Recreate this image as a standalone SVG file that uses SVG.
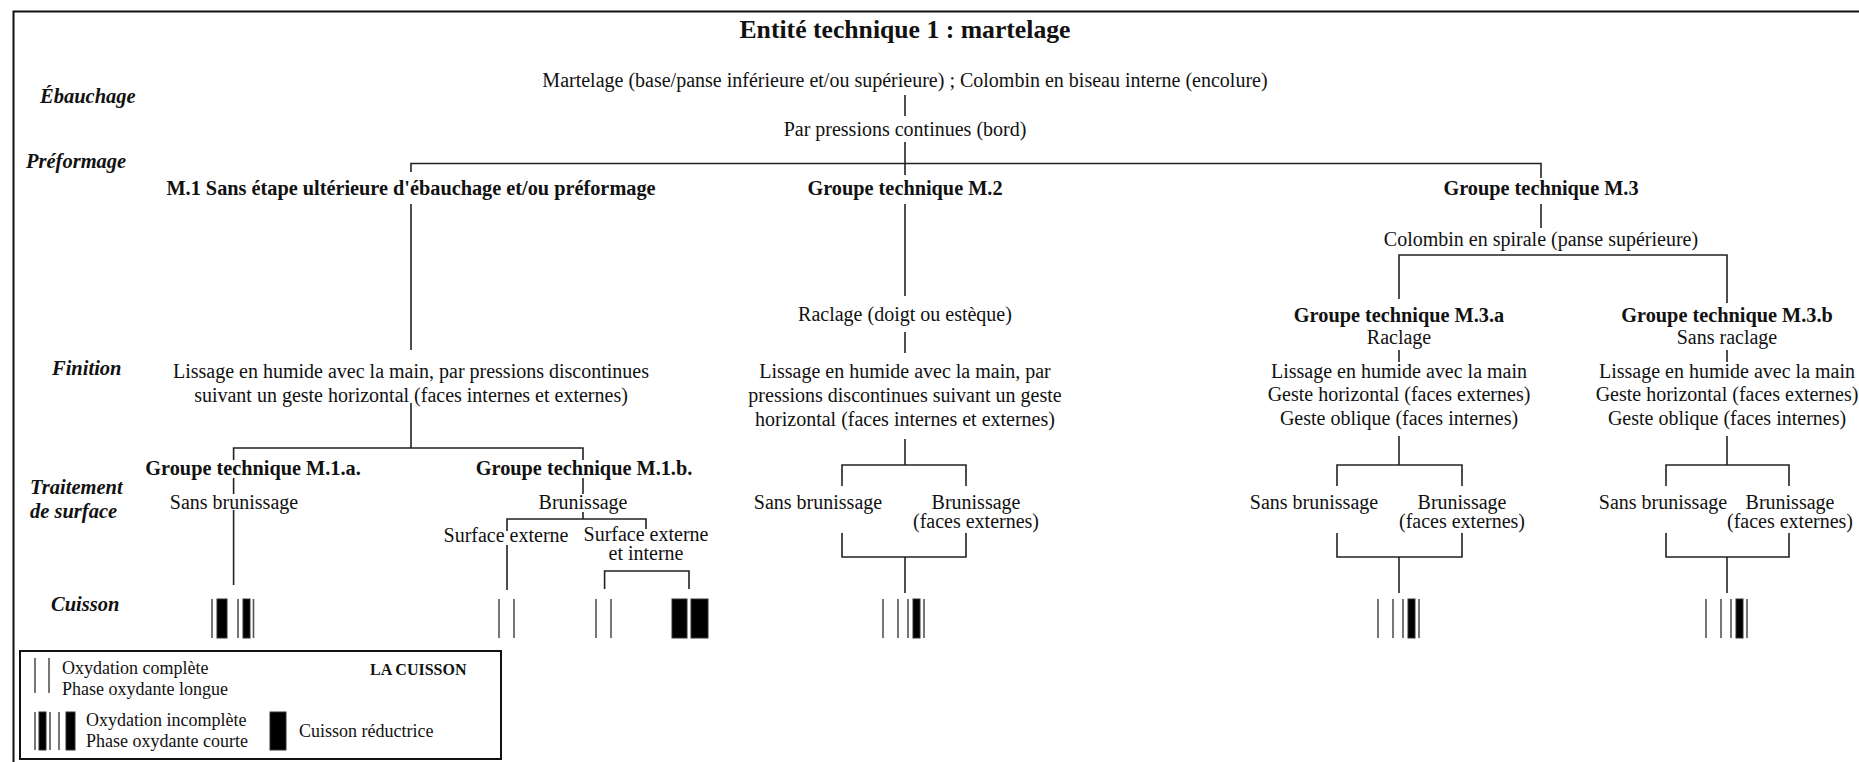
<svg xmlns="http://www.w3.org/2000/svg" width="1859" height="762" viewBox="0 0 1859 762">
<style>
text{font-family:"Liberation Serif","Times New Roman",serif;fill:#111}
.t{font-size:20px;text-anchor:middle}
.b{font-size:20.3px;font-weight:bold;text-anchor:middle}
.lab{font-size:20.5px;font-weight:bold;font-style:italic}
.lg{font-size:18px}
.c line,.c path{stroke:#222;stroke-width:1.6;fill:none}
.thin{stroke:#555;stroke-width:1.6}
.bar{fill:#000;stroke:#333;stroke-width:1}
</style>
<rect x="0" y="0" width="1859" height="762" fill="#fff"/>
<path d="M13.5,762 V11.5 H1859" fill="none" stroke="#111" stroke-width="2"/>

<g id="title"><text x="905" y="38" style="font-size:25.7px;font-weight:bold;text-anchor:middle">Entité technique 1 : martelage</text></g>

<g id="row-labels">
<text class="lab" x="40" y="103">Ébauchage</text>
<text class="lab" x="26" y="168">Préformage</text>
<text class="lab" x="52" y="375">Finition</text>
<text class="lab" x="30" y="494">Traitement</text>
<text class="lab" x="30" y="518">de surface</text>
<text class="lab" x="51" y="611">Cuisson</text>
</g>

<g class="c" id="connectors">
<line x1="905" y1="95" x2="905" y2="116"/>
<line x1="905" y1="142" x2="905" y2="175"/>
<path d="M411,172 V163.5 H1541 V178"/>
<line x1="411" y1="204" x2="411" y2="350"/>
<line x1="411" y1="403" x2="411" y2="448"/>
<path d="M233.6,460 V448 H583 V460"/>
<line x1="233.6" y1="478" x2="233.6" y2="494"/>
<line x1="233.6" y1="510" x2="233.6" y2="585"/>
<line x1="583" y1="478" x2="583" y2="494"/>
<line x1="583" y1="512" x2="583" y2="519"/>
<path d="M507,531 V519 H646 V529"/>
<line x1="507" y1="545" x2="507" y2="590"/>
<path d="M604.6,589 V571 H689 V589"/>
<line x1="905" y1="204" x2="905" y2="296"/>
<line x1="905" y1="332" x2="905" y2="353"/>
<line x1="905" y1="439" x2="905" y2="465"/>
<path d="M842,486 V465 H966 V486"/>
<path d="M842,533 V557 H966 V533"/>
<line x1="905" y1="557" x2="905" y2="593"/>
<line x1="1541" y1="204" x2="1541" y2="228"/>
<path d="M1399,299 V255 H1727 V303"/>
<line x1="1399" y1="350" x2="1399" y2="362"/>
<line x1="1399" y1="436" x2="1399" y2="465"/>
<path d="M1337,486 V465 H1462 V486"/>
<path d="M1337,533 V557 H1462 V533"/>
<line x1="1399" y1="557" x2="1399" y2="593"/>
<line x1="1727" y1="350" x2="1727" y2="362"/>
<line x1="1727" y1="436" x2="1727" y2="465"/>
<path d="M1666,486 V465 H1789 V486"/>
<path d="M1666,533 V557 H1789 V533"/>
<line x1="1727" y1="557" x2="1727" y2="593"/>
</g>

<g id="ebauchage">
<text class="t" x="905" y="87">Martelage (base/panse inférieure et/ou supérieure) ; Colombin en biseau interne (encolure)</text>
</g>
<g id="pressions"><text class="t" x="905" y="136">Par pressions continues (bord)</text></g>

<g id="m1"><text class="b" x="411" y="195">M.1 Sans étape ultérieure d'ébauchage et/ou préformage</text></g>
<g id="m2"><text class="b" x="905" y="195">Groupe technique M.2</text></g>
<g id="m3"><text class="b" x="1541" y="195">Groupe technique M.3</text></g>

<g id="m1-lissage">
<text class="t" x="411" y="378">Lissage en humide avec la main, par pressions discontinues</text>
<text class="t" x="411" y="402">suivant un geste horizontal (faces internes et externes)</text>
</g>
<g id="m1a"><text class="b" x="253" y="475">Groupe technique M.1.a.</text>
<text class="t" x="234" y="509">Sans brunissage</text></g>
<g id="m1b"><text class="b" x="584" y="475">Groupe technique M.1.b.</text>
<text class="t" x="583" y="509">Brunissage</text></g>
<g id="m1b-ext"><text class="t" x="506" y="542">Surface externe</text></g>
<g id="m1b-extint"><text class="t" x="646" y="541">Surface externe</text>
<text class="t" x="646" y="560">et interne</text></g>

<g id="m2-raclage"><text class="t" x="905" y="321">Raclage (doigt ou estèque)</text></g>
<g id="m2-lissage">
<text class="t" x="905" y="378">Lissage en humide avec la main, par</text>
<text class="t" x="905" y="402">pressions discontinues suivant un geste</text>
<text class="t" x="905" y="426">horizontal (faces internes et externes)</text>
</g>
<g id="m2-sans"><text class="t" x="818" y="509">Sans brunissage</text></g>
<g id="m2-brun"><text class="t" x="976" y="509">Brunissage</text><text class="t" x="976" y="528">(faces externes)</text></g>

<g id="m3-colombin"><text class="t" x="1541" y="246">Colombin en spirale (panse supérieure)</text></g>
<g id="m3a">
<text class="b" x="1399" y="322">Groupe technique M.3.a</text>
<text class="t" x="1399" y="344">Raclage</text>
<text class="t" x="1399" y="378">Lissage en humide avec la main</text>
<text class="t" x="1399" y="401">Geste horizontal (faces externes)</text>
<text class="t" x="1399" y="425">Geste oblique (faces internes)</text>
</g>
<g id="m3a-sans"><text class="t" x="1314" y="509">Sans brunissage</text></g>
<g id="m3a-brun"><text class="t" x="1462" y="509">Brunissage</text><text class="t" x="1462" y="528">(faces externes)</text></g>
<g id="m3b">
<text class="b" x="1727" y="322">Groupe technique M.3.b</text>
<text class="t" x="1727" y="344">Sans raclage</text>
<text class="t" x="1727" y="378">Lissage en humide avec la main</text>
<text class="t" x="1727" y="401">Geste horizontal (faces externes)</text>
<text class="t" x="1727" y="425">Geste oblique (faces internes)</text>
</g>
<g id="m3b-sans"><text class="t" x="1663" y="509">Sans brunissage</text></g>
<g id="m3b-brun"><text class="t" x="1790" y="509">Brunissage</text><text class="t" x="1790" y="528">(faces externes)</text></g>

<defs>
<g id="sym-short">
<line class="thin" x1="-21" y1="0" x2="-21" y2="39"/>
<line class="thin" x1="-6" y1="0" x2="-6" y2="39"/>
<line class="thin" x1="4" y1="0" x2="4" y2="39"/>
<rect class="bar" x="9" y="0" width="7" height="39"/>
<line class="thin" x1="20" y1="0" x2="20" y2="39"/>
</g>
</defs>

<g id="cuisson-m1a">
<line class="thin" x1="212" y1="599" x2="212" y2="638"/>
<rect class="bar" x="217" y="599" width="10" height="39"/>
<line class="thin" x1="238" y1="599" x2="238" y2="638"/>
<rect class="bar" x="243" y="599" width="7" height="39"/>
<line class="thin" x1="253.5" y1="599" x2="253.5" y2="638"/>
</g>
<g id="cuisson-m1b-ext">
<line class="thin" x1="499" y1="599" x2="499" y2="638"/>
<line class="thin" x1="514" y1="599" x2="514" y2="638"/>
</g>
<g id="cuisson-m1b-extint">
<line class="thin" x1="596" y1="599" x2="596" y2="638"/>
<line class="thin" x1="611" y1="599" x2="611" y2="638"/>
<rect class="bar" x="672" y="599" width="15" height="39"/>
<rect class="bar" x="691" y="599" width="17" height="39"/>
</g>
<g id="cuisson-m2"><use href="#sym-short" x="904" y="599"/></g>
<g id="cuisson-m3a"><use href="#sym-short" x="1399" y="599"/></g>
<g id="cuisson-m3b"><use href="#sym-short" x="1727" y="599"/></g>

<g id="legend">
<rect x="20" y="651" width="481" height="108" fill="none" stroke="#111" stroke-width="2"/>
<line class="thin" x1="35" y1="658" x2="35" y2="693"/>
<line class="thin" x1="49" y1="658" x2="49" y2="693"/>
<text class="lg" x="62" y="674">Oxydation complète</text>
<text class="lg" x="62" y="695">Phase oxydante longue</text>
<text x="370" y="675" style="font-size:16px;font-weight:bold">LA CUISSON</text>
<line class="thin" x1="35" y1="712" x2="35" y2="750"/>
<rect class="bar" x="39" y="712" width="7" height="38"/>
<line class="thin" x1="50" y1="712" x2="50" y2="750"/>
<line class="thin" x1="59" y1="712" x2="59" y2="750"/>
<rect class="bar" x="66" y="712" width="9" height="38"/>
<text class="lg" x="86" y="726">Oxydation incomplète</text>
<text class="lg" x="86" y="747">Phase oxydante courte</text>
<rect class="bar" x="270" y="712" width="16" height="38"/>
<text class="lg" x="299" y="737">Cuisson réductrice</text>
</g>
</svg>
